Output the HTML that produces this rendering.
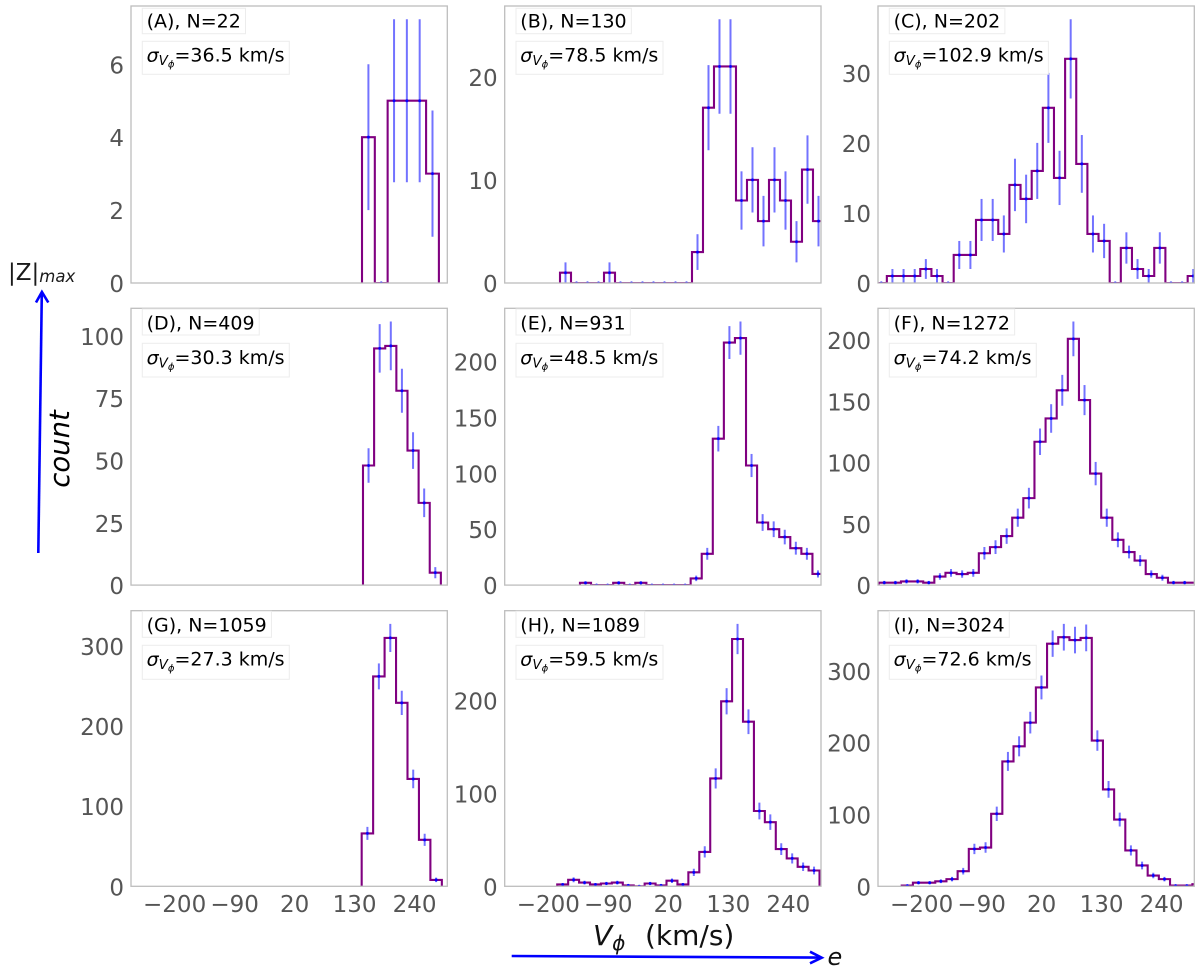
<!DOCTYPE html>
<html>
<head>
<meta charset="utf-8">
<title>V-phi histograms</title>
<style>
html,body{margin:0;padding:0;background:#fff;}
svg{display:block;font-family:"DejaVu Sans","Liberation Sans",sans-serif;}
</style>
</head>
<body>
<svg id="chart" xmlns="http://www.w3.org/2000/svg" width="1200" height="976" viewBox="0 0 1200 976">
  <rect x="0" y="0" width="1200" height="976" fill="#ffffff"/>
  <g id="panels"></g>

  <text x="8" y="280" font-size="23" fill="#1a1a1a">|Z|<tspan font-size="16.5" font-style="italic" dy="2">max</tspan></text>
  <g fill="none" stroke="#0000ff" stroke-width="2.6">
    <line x1="38.3" y1="553" x2="41.8" y2="293"/>
    <polyline points="36,302.5 41.9,292 48.3,302.5"/>
  </g>
  <text transform="translate(69,449) rotate(-90)" text-anchor="middle" font-size="27.5" font-style="italic" fill="#000">count</text>

  <text x="593" y="945" font-size="28" fill="#111"><tspan font-style="italic">V</tspan><tspan font-style="italic" font-size="20" dy="5">ϕ</tspan><tspan x="645" y="945">(km/s)</tspan></text>
  <g fill="none" stroke="#0000ff" stroke-width="2.6">
    <line x1="511.7" y1="956" x2="820" y2="957.6"/>
    <polyline points="810,951.7 821.7,957.7 810,963.3"/>
  </g>
  <text x="827.5" y="965" font-size="24" font-style="italic" fill="#111">e</text>
</svg>
<script>
// Panel A
const startA = 143.6;
const widthA = 23.5;
const countsA = [4, 0, 5, 5, 5, 3];
const yTicksA = [0, 2, 4, 6];
// Panel B
const startB = -178.6;
const widthB = 20.17;
const countsB = [1, 0, 0, 0, 1, 0, 0, 0, 0, 0, 0, 0, 3, 17, 21, 21, 8, 10, 6, 10, 8, 4, 11, 6];
const yTicksB = [0, 10, 20];
// Panel C
const startC = -284.2;
const widthC = 20.43;
const countsC = [0, 1, 1, 1, 2, 1, 0, 4, 4, 9, 9, 7, 14, 12, 16, 25, 15, 32, 17, 7, 6, 0, 5, 2, 1, 5, 0, 0, 1];
const yTicksC = [0, 10, 20, 30];
// Panel D
const startD = 145.4;
const widthD = 20.4;
const countsD = [48, 95, 96, 78, 54, 33, 5];
const yTicksD = [0, 25, 50, 75, 100];
// Panel E
const startE = -142;
const widthE = 20.3;
const countsE = [2, 0, 0, 2, 0, 2, 0, 0, 0, 0, 6, 28, 131, 217, 221, 107, 56, 50, 43, 33, 28, 10];
const yTicksE = [0, 50, 100, 150, 200];
// Panel F
const startF = -278.7;
const widthF = 20.4;
const countsF = [2, 2, 3, 3, 2, 7, 10, 9, 10, 26, 31, 40, 55, 71, 117, 136, 159, 201, 151, 91, 55, 37, 27, 20, 9, 6, 2, 2, 2];
const yTicksF = [0, 50, 100, 150, 200];
// Panel G
const startG = 143;
const widthG = 21;
const countsG = [66, 262, 310, 229, 134, 58, 8];
const yTicksG = [0, 100, 200, 300];
// Panel H
const startH = -183.7;
const widthH = 20.04;
const countsH = [2, 7, 4, 2, 3, 4, 1, 0, 3, 1, 6, 2, 15, 37, 116, 199, 266, 177, 81, 69, 40, 30, 21, 17];
const yTicksH = [0, 100, 200];
// Panel I
const startI = -236.5;
const widthI = 20.5;
const countsI = [1, 5, 5, 7, 10, 21, 52, 54, 101, 174, 195, 228, 277, 338, 347, 343, 346, 203, 135, 93, 50, 29, 15, 10, 1, 1, 3];
const yTicksI = [0, 100, 200, 300];
// Shared x axis
const xTicks = [-200, -90, 20, 130, 240];
const xMin = -280;
const xMax = 300;
// Panel captions
const panelLetters = ['A', 'B', 'C', 'D', 'E', 'F', 'G', 'H', 'I'];
const sampleSizes = [22, 130, 202, 409, 931, 1272, 1059, 1089, 3024];
const sigmas = ['36.5', '78.5', '102.9', '30.3', '48.5', '74.2', '27.3', '59.5', '72.6'];

const allCounts = [countsA, countsB, countsC, countsD, countsE, countsF, countsG, countsH, countsI];
const allStarts = [startA, startB, startC, startD, startE, startF, startG, startH, startI];
const allWidths = [widthA, widthB, widthC, widthD, widthE, widthF, widthG, widthH, widthI];
const allYTicks = [yTicksA, yTicksB, yTicksC, yTicksD, yTicksE, yTicksF, yTicksG, yTicksH, yTicksI];

const SVGNS = 'http://www.w3.org/2000/svg';
const colLeft = [131, 504.7, 878];
const axW = 316.3;
const rowLayout = [
  {top: 6, h: 277, b1: 2.3, b1h: 25.4, b2: 35.3, b2h: 33, t1: 21.3, t2: 55.7},
  {top: 308.3, h: 276.8, b1: 0.7, b1h: 26, b2: 35, b2h: 33.7, t1: 21, t2: 55.7},
  {top: 610.7, h: 275.6, b1: 0.6, b1h: 26, b2: 34.6, b2h: 34, t1: 21, t2: 54.6}
];
const root = document.getElementById('panels');

function mk(tag, attrs, parent) {
  const n = document.createElementNS(SVGNS, tag);
  for (const k in attrs) n.setAttribute(k, attrs[k]);
  parent.appendChild(n);
  return n;
}

allCounts.forEach(function (counts, idx) {
  const col = idx % 3;
  const row = Math.floor(idx / 3);
  const L = colLeft[col];
  const R = rowLayout[row];
  const letter = panelLetters[idx].toLowerCase();
  const start = allStarts[idx];
  const binW = allWidths[idx];
  const peak = Math.max.apply(null, counts.map(function (c) { return c + Math.sqrt(c); }));
  const yTop = peak * 1.05;
  const xScale = function (v) { return L + (v - xMin) * axW / (xMax - xMin); };
  const yScale = function (v) { return R.top + R.h - v * R.h / yTop; };

  const g = mk('g', {}, root);
  
  

  const clip = mk('clipPath', {id: 'clip-' + letter}, g);
  mk('rect', {x: L, y: R.top, width: axW, height: R.h}, clip);

  // step outline
  let d = 'M' + xScale(start).toFixed(2) + ' ' + yScale(0).toFixed(2);
  counts.forEach(function (c, i) {
    const y = yScale(c).toFixed(2);
    d += 'L' + xScale(start + i * binW).toFixed(2) + ' ' + y;
    d += 'L' + xScale(start + (i + 1) * binW).toFixed(2) + ' ' + y;
  });
  d += 'L' + xScale(start + counts.length * binW).toFixed(2) + ' ' + yScale(0).toFixed(2);
  const step = mk('path', {d: d, fill: 'none', stroke: '#800080', 'stroke-width': 2.1, 'clip-path': 'url(#clip-' + letter + ')'}, g);
  
  

  // error bars
  const errs = mk('g', {'clip-path': 'url(#clip-' + letter + ')'}, g);
  
  
  counts.forEach(function (c, i) {
    const cx = xScale(start + (i + 0.5) * binW);
    const e = Math.sqrt(c);
    if (c > 0) {
      const bar = mk('line', {x1: cx, x2: cx, y1: yScale(c - e), y2: yScale(c + e), stroke: '#0000ff', 'stroke-opacity': 0.55, 'stroke-width': 2}, errs);
      
      
    }
    const dot = mk('circle', {cx: cx, cy: yScale(c), r: 1.5, fill: '#0000ff', 'fill-opacity': 0.9}, errs);
    
    
  });

  // frame
  const frame = mk('rect', {x: L, y: R.top, width: axW, height: R.h, fill: 'none', stroke: '#bdbdbd', 'stroke-width': 1.3}, g);
  
  

  // y ticks
  allYTicks[idx].forEach(function (t) {
    const lab = mk('text', {x: L - 7, y: yScale(t) + 9, 'text-anchor': 'end', 'font-size': 23, fill: '#555555'}, g);
    lab.textContent = String(t);
    
    
  });

  // x ticks (bottom row only)
  if (row === 2) {
    xTicks.forEach(function (t) {
      const lab = mk('text', {x: xScale(t), y: 912, 'text-anchor': 'middle', 'font-size': 23, fill: '#555555'}, g);
      lab.textContent = String(t).replace('-', '\u2212');
      
      
    });
  }

  // caption boxes
  const boxX = L + 11.3;
  const box1 = mk('rect', {x: boxX, y: R.top + R.b1, height: R.b1h, width: 100, fill: '#fff', stroke: '#ececec', 'stroke-width': 1}, g);
  
  
  const t1 = mk('text', {x: boxX + 4.3, y: R.top + R.t1, 'font-size': 19, fill: '#000'}, g);
  t1.textContent = '(' + panelLetters[idx] + '), N=' + sampleSizes[idx];
  
  
  box1.setAttribute('width', t1.getComputedTextLength() + 9);

  const box2 = mk('rect', {x: boxX, y: R.top + R.b2, height: R.b2h, width: 140, fill: '#fff', stroke: '#ececec', 'stroke-width': 1}, g);
  
  
  const t2 = mk('text', {x: boxX + 4.3, y: R.top + R.t2, 'font-size': 19, fill: '#000'}, g);
  
  
  const s1 = mk('tspan', {'font-style': 'italic'}, t2);
  s1.textContent = '\u03c3';
  const s2 = mk('tspan', {'font-style': 'italic', 'font-size': 13.5, dy: 3.5}, t2);
  s2.textContent = 'V';
  const s3 = mk('tspan', {'font-style': 'italic', 'font-size': 10, dy: 2.5}, t2);
  s3.textContent = '\u03d5';
  const s4 = mk('tspan', {dy: -6}, t2);
  s4.textContent = '=' + sigmas[idx] + ' km/s';
  box2.setAttribute('width', t2.getComputedTextLength() + 9);
});
</script>
</body>
</html>
